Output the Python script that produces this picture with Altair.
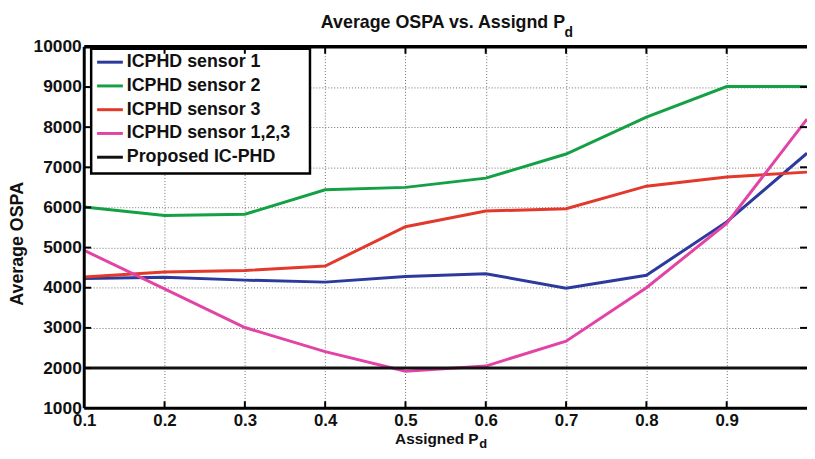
import altair as alt
import pandas as pd

# ---- data ----
x_pd = [0.1, 0.2, 0.3, 0.4, 0.5, 0.6, 0.7, 0.8, 0.9, 1.0]
sensor1 = [4230, 4260, 4190, 4140, 4280, 4350, 3990, 4310, 5640, 7350]
sensor2 = [6010, 5800, 5830, 6440, 6500, 6730, 7330, 8250, 9010, 9010]
sensor3 = [4270, 4390, 4430, 4540, 5520, 5910, 5970, 6530, 6760, 6880]
sensor123 = [4930, 3970, 3010, 2410, 1920, 2050, 2670, 4000, 5600, 8200]
proposed = [2000, 2000, 2000, 2000, 2000, 2000, 2000, 2000, 2000, 2000]

series_names = ["ICPHD sensor 1", "ICPHD sensor 2", "ICPHD sensor 3",
                "ICPHD sensor 1,2,3", "Proposed IC-PHD"]
series_colors = ["#2B3A9C", "#14A044", "#E3382C", "#E244A6", "#111111"]

x_ticks = [0.1, 0.2, 0.3, 0.4, 0.5, 0.6, 0.7, 0.8, 0.9]
y_ticks = [1000, 2000, 3000, 4000, 5000, 6000, 7000, 8000, 9000, 10000]

title_main = "Average OSPA vs. Assignd P"
title_sub = "d"
xtitle_main = "Assigned P"
xtitle_sub = "d"
ytitle = "Average OSPA"

# ---- build tables ----
rows = []
for name, vals in zip(series_names, [sensor1, sensor2, sensor3, sensor123, proposed]):
    for xv, yv in zip(x_pd, vals):
        rows.append({"pd": xv, "ospa": yv, "series": name})
df = pd.DataFrame(rows)

xt_df = pd.DataFrame({"pd": x_ticks[1:]})
yt_df = pd.DataFrame({"ospa": y_ticks[1:-1]})
one = pd.DataFrame({"k": [0]})

W, H = 730, 365
F = "Liberation Sans, Arial, sans-serif"

xscale = alt.Scale(domain=[0.1, 1.0], nice=False, zero=False)
yscale = alt.Scale(domain=[1000, 10000], nice=False, zero=False)

xaxis = alt.Axis(values=x_ticks, format=".1f", title=None, ticks=False,
                 domain=False, grid=True, gridDash=[1, 2], gridColor="#6f6f6f",
                 gridWidth=1, labelFont=F, labelFontSize=17, labelFontWeight="bold",
                 labelColor="#111111", labelPadding=4, labelFlush=False)
yaxis = alt.Axis(values=y_ticks, format="d", title=None, ticks=False,
                 domain=False, grid=True, gridDash=[1, 2], gridColor="#6f6f6f",
                 gridWidth=1, labelFont=F, labelFontSize=17.5, labelFontWeight="bold",
                 labelColor="#111111", labelPadding=3, labelFlush=False)

def X():
    return alt.X("pd:Q", scale=xscale, axis=xaxis)

def Y():
    return alt.Y("ospa:Q", scale=yscale, axis=yaxis)

lines = alt.Chart(df).mark_line(strokeWidth=3).encode(
    x=X(), y=Y(),
    color=alt.Color("series:N",
                    scale=alt.Scale(domain=series_names, range=series_colors),
                    legend=alt.Legend(title=None, orient="none", legendX=11.5, legendY=1,
                                      symbolType="stroke", symbolSize=676,
                                      symbolStrokeWidth=3, rowPadding=-6, padding=0,
                                      labelFont=F, labelFontSize=18,
                                      labelFontWeight="bold", labelColor="#111111",
                                      labelOffset=2.5, labelLimit=0)),
    order=alt.Order("pd:Q"),
)

legend_box = alt.Chart(one).mark_rect(fill="white", stroke="black", strokeWidth=2.5).encode(
    x=alt.value(7), x2=alt.value(228), y=alt.value(2), y2=alt.value(128)
)

tick_bottom = alt.Chart(xt_df).mark_rule(color="black", strokeWidth=2).encode(
    x=X(), y=alt.value(H), y2=alt.value(H - 7))
tick_top = alt.Chart(xt_df).mark_rule(color="black", strokeWidth=2).encode(
    x=X(), y=alt.value(0), y2=alt.value(7))
tick_left = alt.Chart(yt_df).mark_rule(color="black", strokeWidth=2).encode(
    y=Y(), x=alt.value(0), x2=alt.value(7))
tick_right = alt.Chart(yt_df).mark_rule(color="black", strokeWidth=2).encode(
    y=Y(), x=alt.value(W - 7), x2=alt.value(W))

border_left = alt.Chart(one).mark_rule(color="black", strokeWidth=3).encode(
    x=alt.value(0), y=alt.value(0), y2=alt.value(H))
border_top = alt.Chart(one).mark_rule(color="black", strokeWidth=3.5).encode(
    x=alt.value(0), x2=alt.value(W), y=alt.value(0))
border_bottom = alt.Chart(one).mark_rule(color="black", strokeWidth=3).encode(
    x=alt.value(0), x2=alt.value(W), y=alt.value(H))

def txt(s, x, y, size, align="left", angle=0):
    kw = dict(align=align, baseline="alphabetic", font=F, fontSize=size,
              fontWeight="bold", color="#111111")
    if angle:
        kw["angle"] = angle
        kw["baseline"] = "middle"
    return alt.Chart(pd.DataFrame({"t": [s]})).mark_text(**kw).encode(
        text="t:N", x=alt.value(x), y=alt.value(y))

t1 = txt(title_main, 239, -19, 18)
t2 = txt(title_sub, 485, -10, 14)
xt1 = txt(xtitle_main, 314, 401, 15.5)
xt2 = txt(xtitle_sub, 399, 405, 13)
yt = txt(ytitle, -67, 199, 18, align="center", angle=270)

chart = alt.layer(
    lines, legend_box, tick_bottom, tick_top, tick_left, tick_right,
    border_left, border_top, border_bottom, t1, t2, xt1, xt2, yt
).properties(
    width=W, height=H,
    padding={"left": 77, "top": 37, "right": 0, "bottom": 41},
    autosize=alt.AutoSizeParams(type="none"),
    background="white",
).configure_view(stroke=None)

chart.save("out.html", embed_options={"renderer": "svg", "actions": False})
